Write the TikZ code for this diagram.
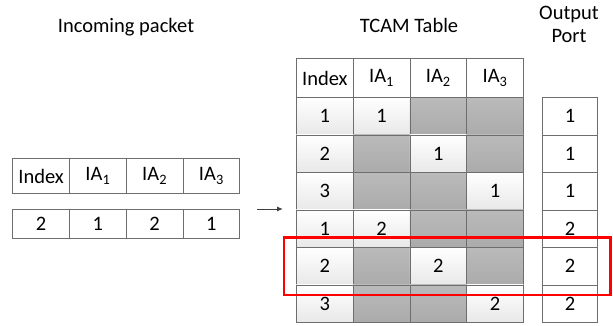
\documentclass[tikz,border=0pt]{standalone}
\usepackage{fontspec}
\setmainfont{Carlito}
\usetikzlibrary{arrows.meta}
\definecolor{bordc}{HTML}{6E6E6E}
\begin{document}
\begin{tikzpicture}[x=1pt,y=-1pt,
  every node/.style={font=\fontsize{20.5}{24}\selectfont, text=black},
  cellw/.style={draw=bordc, line width=0.9pt, fill=white, minimum width=56.75pt, minimum height=#1, inner sep=0pt, anchor=north west},
  cellw/.default=37.5pt,
  celll/.style={cellw=37.5pt, top color=white, bottom color=black!9},
  cellg/.style={cellw=37.5pt, top color=black!27, bottom color=black!33},
  title/.style={align=center}]
\useasboundingbox (0,0) rectangle (613,325);
% titles
\node[title] (tin) at (126,27) {Incoming packet};
\node[title] (ttc) at (409,25) {TCAM Table};
\node[title] (tout) at (569,24) {Output\\[-1pt]Port};
% incoming packet
\foreach \t [count=\i from 0] in {Index,IA\textsubscript{1},IA\textsubscript{2},IA\textsubscript{3}}
  \node[cellw=34.4pt] (ph\i) at (12.3+56.75*\i,158.3) {\t};
\foreach \t [count=\i from 0] in {2,1,2,1}
  \node[cellw=29pt] (pv\i) at (12.3+56.75*\i,209.3) {\t};
% TCAM header
\foreach \t [count=\i from 0] in {Index,IA\textsubscript{1},IA\textsubscript{2},IA\textsubscript{3}}
  \node[cellw=39pt] (th\i) at (296+56.75*\i,58) {\t};
% TCAM rows: row index, then entries
\foreach \r/\a/\b/\c/\d/\o in {1/1/1/G/G/1, 2/2/G/1/G/1, 3/3/G/G/1/1, 4/1/2/G/G/2, 5/2/G/2/G/2, 6/3/G/G/2/2} {
  \pgfmathsetmacro{\yy}{97+37.5*(\r-1)}
  \node[celll] (t\r-0) at (296,\yy) {\a};
  \foreach \v [count=\j] in {\b,\c,\d} {
    \if G\v
      \node[cellg] (t\r-\j) at (296+56.75*\j,\yy) {};
    \else
      \node[celll] (t\r-\j) at (296+56.75*\j,\yy) {\v};
    \fi
  }
  \node[cellw=37.5pt, minimum width=55pt] (o\r) at (542,\yy) {\o};
}
% arrow
\coordinate (as) at (257,209);
\coordinate (ae) at (283,209);
\draw[line width=1pt, draw=black!75, -{Latex[length=6pt,width=5pt]}] (as) -- (ae);
% highlight
\draw[red, line width=2.6pt] (284,237.5) rectangle (610.5,295);
\end{tikzpicture}
\end{document}
